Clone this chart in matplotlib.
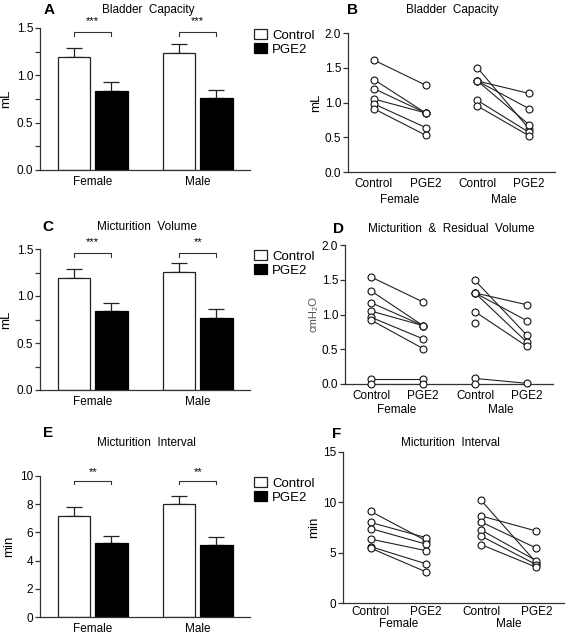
import numpy as np
import matplotlib
matplotlib.use("Agg")
import matplotlib.pyplot as plt
from matplotlib.ticker import MultipleLocator, FormatStrFormatter

plt.rcParams['font.family'] = ['Liberation Sans', 'DejaVu Sans']

W, H = 571, 635

# ---- data ----
groups = ["Female", "Male"]
pair_labels = ["Control", "PGE2", "Control", "PGE2"]

# A: bladder capacity (mL), mean and SEM
capA_ctrl = [1.19, 1.24]
capA_ctrl_err = [0.10, 0.09]
capA_pge2 = [0.83, 0.76]
capA_pge2_err = [0.10, 0.09]
starsA = ["***", "***"]

# C: micturition volume (mL)
volC_ctrl = [1.19, 1.26]
volC_ctrl_err = [0.10, 0.09]
volC_pge2 = [0.84, 0.77]
volC_pge2_err = [0.09, 0.09]
starsC = ["***", "**"]

# E: micturition interval (min)
intE_ctrl = [7.16, 7.99]
intE_ctrl_err = [0.61, 0.59]
intE_pge2 = [5.28, 5.12]
intE_pge2_err = [0.50, 0.57]
starsE = ["**", "**"]

# B: individual bladder capacity
B_f_ctrl = [1.61, 1.33, 1.20, 1.05, 0.98, 0.91]
B_f_pge2 = [1.25, 0.85, 0.85, 0.85, 0.64, 0.53]
B_m_ctrl = [1.50, 1.31, 1.31, 1.31, 1.03, 0.95]
B_m_pge2 = [0.62, 1.13, 0.91, 0.68, 0.57, 0.52]

# D: micturition & residual volume
D_f_ctrl = [1.54, 1.34, 1.17, 1.05, 0.96, 0.92, 0.07, 0.0]
D_f_pge2 = [1.18, 0.84, 0.84, 0.84, 0.65, 0.51, 0.07, 0.0]
D_m_ctrl = [1.49, 1.31, 1.31, 1.31, 1.04, 0.88, 0.08, 0.0]
D_m_pge2 = [0.70, 1.14, 0.91, 0.60, 0.54, np.nan, 0.01, np.nan]

# F: individual micturition interval
F_f_ctrl = [9.1, 8.0, 7.4, 6.35, 5.6, 5.45]
F_f_pge2 = [6.2, 6.5, 5.85, 5.2, 3.9, 3.1]
F_m_ctrl = [10.2, 8.65, 8.05, 7.25, 6.65, 5.8]
F_m_pge2 = [4.0, 7.15, 5.45, 4.2, 3.8, 3.55]

fig = plt.figure(figsize=(W / 100, H / 100), dpi=100)


def px_axes(x0, y0, x1, y1):
    # pixel box -> figure fraction axes
    return fig.add_axes([x0 / W, 1 - y1 / H, (x1 - x0) / W, (y1 - y0) / H])


def ftext(x, y, s, **kw):
    fig.text(x / W, 1 - y / H, s, **kw)


def style(ax, xpad=4):
    for s in ["top", "right"]:
        ax.spines[s].set_visible(False)
    for s in ["left", "bottom"]:
        ax.spines[s].set_color("#333333")
        ax.spines[s].set_linewidth(0.9)
    ax.tick_params(axis="y", which="both", direction="out", length=3.5,
                   width=0.9, color="#333333", labelsize=8.5, pad=1.5)
    ax.tick_params(axis="x", length=0, labelsize=8.5, pad=xpad)


def bar_panel(ax, ctrl, ctrl_err, pge2, pge2_err, stars, ylim, major, minor,
              ylabel, bracket_y, star_y):
    x = np.arange(len(groups))
    w = 0.31
    ax.bar(x - 0.175, ctrl, w, color="white", edgecolor="#222222", lw=0.9,
           label="Control", zorder=2)
    ax.bar(x + 0.18, pge2, w, color="black", edgecolor="black", lw=0.9,
           label="PGE2", zorder=2)
    ax.errorbar(x - 0.175, ctrl, yerr=[np.zeros(len(x)), ctrl_err], fmt="none",
                ecolor="#222222", elinewidth=0.9, capsize=6, capthick=0.9, zorder=1)
    ax.errorbar(x + 0.18, pge2, yerr=[np.zeros(len(x)), pge2_err], fmt="none",
                ecolor="#222222", elinewidth=0.9, capsize=6, capthick=0.9, zorder=1)
    tick = (ylim[1] - ylim[0]) * 0.025
    for i, s in enumerate(stars):
        x0, x1 = i - 0.175, i + 0.18
        ax.plot([x0, x0, x1, x1], [bracket_y - tick, bracket_y, bracket_y, bracket_y - tick],
                color="#333333", lw=0.8, clip_on=False)
        ax.text((x0 + x1) / 2, star_y, s, ha="center", va="center", fontsize=8,
                clip_on=False)
    ax.set_xlim(-0.5, 1.5)
    ax.set_ylim(*ylim)
    ax.yaxis.set_major_locator(MultipleLocator(major))
    if minor:
        ax.yaxis.set_minor_locator(MultipleLocator(minor))
    ax.set_xticks(x)
    ax.set_xticklabels(groups)
    ax.set_ylabel(ylabel, fontsize=9.5, labelpad=3)
    style(ax)
    ax.legend(loc="upper left", bbox_to_anchor=(1.02, 0.99), frameon=False,
              fontsize=9.5, handlelength=1.0, handleheight=0.75, handletextpad=0.35,
              labelspacing=0.1, borderpad=0, borderaxespad=0)


def pair_panel(ax, pairs, ylim, major, ylabel, sex_off=20, xpad=4, ylabel_kw=None):
    for k, (ctrl, pge2) in enumerate(pairs):
        xc, xp = 1 + 2 * k, 2 + 2 * k
        for a, b in zip(ctrl, pge2):
            if not (np.isnan(a) or np.isnan(b)):
                ax.plot([xc, xp], [a, b], color="#222222", lw=0.8, zorder=1)
        ax.plot(np.full(len(ctrl), xc), ctrl, "o", ms=5, mfc="white",
                mec="#111111", mew=0.8, zorder=3, clip_on=False)
        ax.plot(np.full(len(pge2), xp), pge2, "o", ms=5, mfc="white",
                mec="#111111", mew=0.8, zorder=3, clip_on=False)
    ax.set_xlim(0.5, 4.5)
    ax.set_ylim(*ylim)
    ax.yaxis.set_major_locator(MultipleLocator(major))
    ax.set_xticks([1, 2, 3, 4])
    ax.set_xticklabels(pair_labels)
    for k, g in enumerate(groups):
        ax.annotate(g, (1.5 + 2 * k, 0), xycoords=("data", "axes fraction"),
                    xytext=(0, -sex_off), textcoords="offset points",
                    ha="center", va="center", fontsize=8.5)
    lkw = {"fontsize": 9.5}
    lkw.update(ylabel_kw or {})
    ax.set_ylabel(ylabel, labelpad=2, **lkw)
    style(ax, xpad)


# ---- A ----
axA = px_axes(40, 28, 250, 170)
bar_panel(axA, capA_ctrl, capA_ctrl_err, capA_pge2, capA_pge2_err, starsA,
          (0, 1.5), 0.5, 0.25, "mL", 1.457, 1.57)
axA.yaxis.set_major_formatter(FormatStrFormatter("%.1f"))

# ---- B ----
axB = px_axes(348, 33, 555, 172)
pair_panel(axB, [(B_f_ctrl, B_f_pge2), (B_m_ctrl, B_m_pge2)], (0, 2.0), 0.5, "mL",
           sex_off=20)
axB.yaxis.set_major_formatter(FormatStrFormatter("%.1f"))

# ---- C ----
axC = px_axes(40, 249, 250, 390)
bar_panel(axC, volC_ctrl, volC_ctrl_err, volC_pge2, volC_pge2_err, starsC,
          (0, 1.5), 0.5, 0.25, "mL", 1.457, 1.57)
axC.yaxis.set_major_formatter(FormatStrFormatter("%.1f"))

# ---- D ----
axD = px_axes(345, 245, 553, 384)
pair_panel(axD, [(D_f_ctrl, D_f_pge2), (D_m_ctrl, D_m_pge2)], (0, 2.0), 0.5,
           "cmH\u2082O", sex_off=19, ylabel_kw={"color": "#555555", "fontsize": 8})
axD.yaxis.set_major_formatter(FormatStrFormatter("%.1f"))

# ---- E ----
axE = px_axes(40, 476, 250, 617)
bar_panel(axE, intE_ctrl, intE_ctrl_err, intE_pge2, intE_pge2_err, starsE,
          (0, 10), 2, None, "min", 9.67, 10.3)

# ---- F ----
axF = px_axes(343, 452, 564, 603)
pair_panel(axF, [(F_f_ctrl, F_f_pge2), (F_m_ctrl, F_m_pge2)], (0, 15), 5, "min",
           sex_off=15, xpad=2)

# ---- panel letters and titles ----
lk = dict(fontsize=11, fontweight="bold", ha="center", va="center")
tk = dict(fontsize=8.5, ha="center", va="center")
ftext(49, 10, "A", **lk)
ftext(148, 10, "Bladder  Capacity", **tk)
ftext(352, 10, "B", **lk)
ftext(452, 10, "Bladder  Capacity", **tk)
ftext(48, 227, "C", **lk)
ftext(147, 227, "Micturition  Volume", **tk)
ftext(338, 229, "D", **lk)
ftext(451, 229, "Micturition  &  Residual  Volume", **tk)
ftext(48, 433, "E", **lk)
ftext(146, 443, "Micturition  Interval", **tk)
ftext(337, 434, "F", **lk)
ftext(450, 443, "Micturition  Interval", **tk)

fig.savefig("out.png", dpi=100)
